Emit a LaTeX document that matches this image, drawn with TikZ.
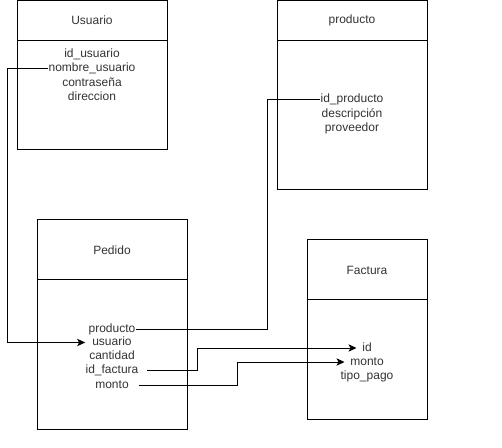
\documentclass[tikz,border=0pt]{standalone}
\usepackage{fontspec}
\setmainfont{Liberation Sans}
\usetikzlibrary{arrows.meta}

\begin{document}
\begin{tikzpicture}[x=0.75pt, y=-0.75pt, line width=0.75pt, font=\fontsize{9}{10}\selectfont]
    \tikzset{>={Stealth[length=6pt,width=5.5pt,inset=1.5pt]}}
    \tikzset{cabecera/.style={draw, minimum width=112.5pt, minimum height=30pt, inner sep=0pt, text=black!80},
             cuerpo/.style={draw, minimum width=112.5pt, minimum height=111.75pt, inner sep=0pt},
             campo/.style={inner sep=0pt, text height=6.5pt, text depth=2pt, text=black!80}}
    \useasboundingbox (0,0) rectangle (502,448);
    \coordinate (carrilU) at (7,0);
    \coordinate (carrilP) at (267,0);
    \coordinate (carrilF) at (197,0);
    \coordinate (carrilM) at (237,0);
    % Usuario
    \node[cabecera] (u-cab) at (92,20.5) {Usuario};
    \node[cuerpo, minimum height=82.1pt] (u-cuerpo) at (92,95.25) {};
    \node[campo] (u-id) at (92,54.5) {id\_usuario};
    \node[campo] (u-nombre) at (92,69) {nombre\_usuario};
    \node[campo] (u-clave) at (92,83.5) {contraseña};
    \node[campo] (u-dir) at (92,98) {direccion};
    % producto
    \node[cabecera] (pr-cab) at (352,20.75) {producto};
    \node[cuerpo] (pr-cuerpo) at (352,115.5) {};
    \node[campo] (pr-id) at (352,100) {id\_producto};
    \node[campo] (pr-desc) at (352,114.5) {descripción};
    \node[campo] (pr-prov) at (352,129) {proveedor};
    % Pedido
    \node[cabecera, minimum height=45pt] (p-cab) at (112,250) {Pedido};
    \node[cuerpo] (p-cuerpo) at (112,354.5) {};
    \node[campo] (p-producto) at (112,329) {producto};
    \node[campo] (p-usuario) at (112,342.5) {usuario};
    \node[campo] (p-cantidad) at (112,356.5) {cantidad};
    \node[campo] (p-factura) at (112,370.5) {id\_factura};
    \node[campo] (p-monto) at (112,385) {monto};
    % Factura
    \node[cabecera, minimum width=90pt, minimum height=45pt] (f-cab) at (367,270) {Factura};
    \node[cuerpo, minimum width=90pt, minimum height=89.25pt] (f-cuerpo) at (367,359.5) {};
    \node[campo] (f-id) at (367,348) {id};
    \node[campo] (f-monto) at (367,362) {monto};
    \node[campo] (f-tipo) at (367,376) {tipo\_pago};
    % relaciones
    \draw[->, shorten >=5pt] (u-nombre.west) -- (u-nombre -| carrilU) |- (p-usuario.west);
    \draw (p-producto.east) -- (p-producto -| carrilP) |- (pr-id.west);
    \draw[->, shorten >=4pt] ([xshift=6pt]p-factura.east) -- (p-factura -| carrilF) |- (f-id.west);
    \draw[->, shorten >=4pt] ([xshift=7pt]p-monto.east) -- (p-monto -| carrilM) |- (f-monto.west);
\end{tikzpicture}
\end{document}
